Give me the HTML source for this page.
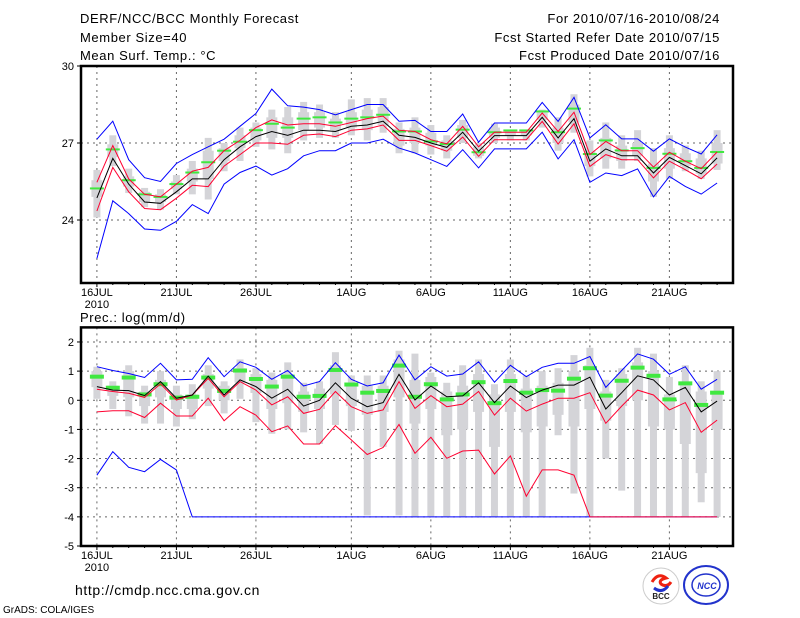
<!DOCTYPE html>
<html><head><meta charset="utf-8"><style>
html,body{margin:0;padding:0;background:#fff;}
svg{display:block;font-family:"Liberation Sans",sans-serif;}
</style></head><body>
<svg id="chart" width="800" height="618" viewBox="0 0 800 618" xmlns="http://www.w3.org/2000/svg">
<rect width="800" height="618" fill="#fff"/>
<g font-size="13" fill="#000" letter-spacing="0.6">
<text x="80" y="23">DERF/NCC/BCC Monthly Forecast</text>
<text x="80" y="42">Member Size=40</text>
<text x="80" y="60">Mean Surf. Temp.: °C</text>
<text x="720" y="23" text-anchor="end">For 2010/07/16-2010/08/24</text>
<text x="720" y="42" text-anchor="end">Fcst Started Refer Date 2010/07/15</text>
<text x="720" y="60" text-anchor="end">Fcst Produced Date 2010/07/16</text>
<text x="80" y="322">Prec.: log(mm/d)</text>
<text x="75" y="595" font-size="14">http://cmdp.ncc.cma.gov.cn</text>
<text x="3" y="613" font-size="10" letter-spacing="0">GrADS: COLA/IGES</text>
</g>
<g>
<circle cx="661" cy="586" r="18" fill="#fff" stroke="#ccc"/>
<path d="M652 582 q6 -10 14 -4 q-8 2 -5 6 q6 4 10 -2" fill="none" stroke="#e21" stroke-width="3"/>
<path d="M654 588 q8 6 14 -2" fill="none" stroke="#23c" stroke-width="3"/>
<text x="661" y="599" font-size="8" font-weight="bold" text-anchor="middle" fill="#222">BCC</text>
</g>
<g>
<ellipse cx="706" cy="585" rx="22" ry="19" fill="#fff" stroke="#23c" stroke-width="2"/>
<ellipse cx="706" cy="585" rx="14" ry="11" fill="none" stroke="#23c" stroke-width="1.5"/>
<text x="707" y="589" font-size="9" font-weight="bold" font-style="italic" text-anchor="middle" fill="#23c">NCC</text>
</g>
<g id="plots"></g>
</svg>
<script>
// ---- Temperature panel data (days 16JUL..24AUG) ----
const days = ["16JUL","17JUL","18JUL","19JUL","20JUL","21JUL","22JUL","23JUL","24JUL","25JUL","26JUL","27JUL","28JUL","29JUL","30JUL","31JUL","1AUG","2AUG","3AUG","4AUG","5AUG","6AUG","7AUG","8AUG","9AUG","10AUG","11AUG","12AUG","13AUG","14AUG","15AUG","16AUG","17AUG","18AUG","19AUG","20AUG","21AUG","22AUG","23AUG","24AUG"];
const xTickLabels = ["16JUL","21JUL","26JUL","1AUG","6AUG","11AUG","16AUG","21AUG"];
const xTickIdx = [0,5,10,16,21,26,31,36];
const tTicks = [24,27,30];
const tMean = [24.86,26.4,25.4,24.7,24.65,25.1,25.6,25.6,26.35,26.85,27.25,27.45,27.3,27.5,27.5,27.45,27.65,27.7,27.85,27.3,27.22,27.0,26.83,27.42,26.68,27.29,27.29,27.29,28.0,27.2,27.95,26.29,26.77,26.5,26.5,25.83,26.44,26.12,25.8,26.42];
const tRedHi = [25.47,26.9,25.6,25.0,24.9,25.4,25.9,26.05,26.7,27.1,27.6,27.9,27.7,27.75,27.75,27.65,27.8,27.95,28.05,27.5,27.45,27.13,26.97,27.65,26.85,27.42,27.42,27.42,28.17,27.45,28.2,26.55,27.06,26.7,26.7,26.06,26.64,26.29,26.0,26.65];
const tRedLo = [24.35,26.05,25.1,24.45,24.4,24.85,25.35,25.3,26.1,26.55,27.0,27.0,26.95,27.3,27.35,27.25,27.5,27.55,27.7,27.1,27.1,26.9,26.68,27.23,26.48,27.13,27.13,27.13,27.84,26.96,27.75,26.09,26.55,26.35,26.35,25.64,26.29,25.96,25.61,26.18];
const tMax = [27.15,27.85,26.35,25.65,25.5,26.2,26.55,26.85,27.15,27.65,28.15,29.1,28.45,28.4,28.3,28.1,28.3,28.5,28.5,27.85,27.88,27.45,27.45,28.13,27.03,27.78,27.78,27.78,28.58,27.84,28.78,27.2,27.71,27.16,27.16,26.68,27.16,26.84,26.57,27.32];
const tMin = [22.5,24.75,24.25,23.65,23.6,23.95,24.6,24.25,25.4,25.85,26.1,25.75,26.0,26.5,26.7,26.7,27.0,27.0,27.15,26.8,26.61,26.35,26.09,26.74,26.03,26.77,26.77,26.77,27.42,26.38,27.13,25.47,25.83,25.73,25.99,24.9,25.7,25.31,25.01,25.44];
const tObs = [25.23,26.75,25.55,25.0,24.9,25.4,25.85,26.25,26.7,27.05,27.5,27.75,27.6,27.95,28.0,27.8,27.95,28.0,28.1,27.45,27.45,27.06,26.96,27.52,26.64,27.42,27.49,27.49,28.23,27.42,28.34,26.57,27.1,26.71,26.8,26.03,26.58,26.29,26.03,26.65];
const tWhLo = [24.1,26.1,25.05,24.5,24.4,25.0,25.0,24.8,25.9,26.3,26.85,26.75,26.6,27.1,27.2,27.2,27.3,27.1,27.4,26.6,26.6,26.55,26.4,27.0,26.4,27.0,27.1,27.1,27.6,26.7,27.4,25.7,26.0,26.0,26.3,24.9,25.6,25.9,25.6,25.95];
const tWhHi = [25.95,27.3,26.0,25.25,25.2,25.75,26.3,27.2,27.0,27.6,27.8,28.3,28.4,28.6,28.5,28.2,28.7,28.75,28.75,27.8,28.0,27.7,27.3,27.9,27.0,27.75,27.5,27.5,28.3,28.0,28.9,27.1,27.8,27.3,27.5,26.8,27.3,26.9,26.7,27.5];
const tBoxLo = [24.9,26.45,25.3,24.7,24.7,25.2,25.5,25.6,26.3,26.8,27.1,27.2,27.2,27.5,27.6,27.5,27.6,27.5,27.7,26.9,27.0,26.9,26.7,27.2,26.5,27.2,27.3,27.3,27.9,27.0,27.8,26.1,26.4,26.3,26.5,25.5,26.0,26.1,25.8,26.2];
const tBoxHi = [25.55,26.95,25.7,25.1,25.0,25.5,26.0,26.7,26.8,27.3,27.6,28.0,28.0,28.2,28.2,27.95,28.2,28.3,28.4,27.55,27.6,27.4,27.1,27.7,26.85,27.6,27.5,27.5,28.2,27.6,28.5,26.7,27.2,26.9,27.0,26.2,26.8,26.6,26.4,27.0];
// ---- Precipitation panel data ----
const pTicks = [-5,-4,-3,-2,-1,0,1,2];
const pMean = [0.47,0.35,0.33,0.16,0.64,0.07,0.18,0.83,0.18,0.7,0.47,0.07,0.38,-0.2,0.0,0.6,0.07,-0.22,-0.08,0.89,0.01,0.49,0.12,0.15,0.6,-0.08,0.49,0.09,0.35,0.52,0.52,0.79,-0.3,0.26,0.84,0.7,0.18,0.44,-0.4,-0.03];
const pMax = [1.15,1.02,0.92,0.78,1.27,0.7,0.72,1.46,0.81,1.32,1.13,0.72,1.02,0.49,0.64,1.29,0.72,0.49,0.6,1.55,0.7,1.15,0.83,0.9,1.32,0.62,1.2,0.81,1.13,1.27,1.27,1.5,0.44,1.02,1.59,1.41,0.89,1.15,0.38,0.72];
const pRedHi = [0.38,0.3,0.24,0.1,0.56,0.01,0.18,0.75,0.12,0.64,0.35,-0.16,0.12,-0.45,-0.31,0.3,-0.22,-0.45,-0.33,0.64,-0.28,0.16,-0.22,-0.13,0.3,-0.51,0.07,-0.37,-0.13,0.07,0.07,0.26,-0.79,-0.2,0.35,0.18,-0.33,-0.08,-1.1,-0.68];
const pRedLo = [-0.4,-0.36,-0.36,-0.59,-0.1,-0.54,-0.54,0.07,-0.7,-0.22,-0.51,-1.08,-0.88,-1.5,-1.5,-0.87,-1.36,-1.86,-1.62,-0.83,-1.82,-1.27,-1.99,-1.74,-1.71,-2.53,-1.91,-3.29,-2.39,-2.39,-2.57,-4,-4,-4,-4,-4,-4,-4,-4,-4];
const pMin = [-2.57,-1.76,-2.3,-2.45,-2.03,-2.39,-4,-4,-4,-4,-4,-4,-4,-4,-4,-4,-4,-4,-4,-4,-4,-4,-4,-4,-4,-4,-4,-4,-4,-4,-4,-4,-4,-4,-4,-4,-4,-4,-4,-4];
const pObs = [0.81,0.43,0.78,0.2,0.55,0.09,0.12,0.78,0.32,1.02,0.73,0.47,0.81,0.12,0.15,1.04,0.54,0.26,0.32,1.19,0.12,0.55,0.03,0.2,0.62,-0.1,0.66,0.26,0.35,0.33,0.74,1.1,0.16,0.67,1.12,0.84,0.03,0.58,-0.16,0.26];
const pWhLo = [0.05,-0.3,-0.55,-0.8,-0.8,-0.9,-0.65,-0.2,-0.45,0.05,-0.75,-1.15,-1.0,-1.1,-1.5,-0.85,-1.05,-3.95,-1.6,-3.95,-4,-4,-4,-4,-4,-4,-4,-4,-4,-1.2,-3.2,-4,-2.0,-3.1,-4,-4,-4,-4,-3.5,-4];
const pWhHi = [1.15,0.65,1.2,0.5,1.0,0.5,0.55,1.2,0.65,1.4,1.1,0.95,1.3,0.6,0.65,1.65,0.85,0.85,0.85,1.7,1.6,0.95,0.6,1.2,1.4,0.55,1.4,0.85,1.0,1.1,1.55,1.8,0.7,1.1,1.8,1.6,0.8,1.2,0.65,1.0];
const pBoxLo = [0.45,0.15,0.1,-0.2,0.1,-0.3,-0.3,0.4,0.0,0.6,0.25,-0.3,-0.1,-0.4,-0.3,0.2,-0.2,-0.5,-0.4,0.1,-0.8,-0.3,-1.2,-1.0,-0.4,-1.6,-0.4,-1.1,-0.9,-0.5,-0.9,-0.3,-0.7,-0.2,0.0,-0.9,-1.0,-1.5,-2.5,-1.0];
const pBoxHi = [1.0,0.5,1.0,0.3,0.7,0.2,0.2,0.9,0.5,1.1,0.9,0.7,0.9,0.3,0.4,1.2,0.6,0.5,0.5,1.4,0.7,0.8,0.3,0.5,0.9,0.2,0.9,0.4,0.5,0.6,1.0,1.2,0.3,0.9,1.3,1.0,0.2,0.6,0.3,0.3];

const NS = "http://www.w3.org/2000/svg";
const root = document.getElementById("plots");
const X0 = 81, X1 = 733;
const xs = d => X0 + (d + 1) * (X1 - X0) / (days.length + 1);
function mk(tag, attrs, parent) {
  const e = document.createElementNS(NS, tag);
  for (const k in attrs) e.setAttribute(k, attrs[k]);
  parent.appendChild(e);
  return e;
}
function panel(cfg) {
  const g = mk("g", {}, root);
  
  
  const ys = v => cfg.yBot + (v - cfg.vMin) * (cfg.yTop - cfg.yBot) / (cfg.vMax - cfg.vMin);
  xTickIdx.forEach((d, i) => {
    const l = mk("line", {x1: xs(d), x2: xs(d), y1: cfg.yTop, y2: cfg.yBot, stroke: "#666", "stroke-dasharray": "2,4", "stroke-width": 1}, g);
    
    
    const t = mk("text", {x: xs(d), y: cfg.yBot + 13, "font-size": 11, "text-anchor": "middle"}, g);
    t.textContent = xTickLabels[i];
    
    
  });
  for (let d = 0; d < days.length; d++) {
    mk("line", {x1: xs(d), x2: xs(d), y1: cfg.yBot, y2: cfg.yBot + (xTickIdx.includes(d) ? 4 : 2), stroke: "#000"}, g);
  }
  const yr = mk("text", {x: xs(0), y: cfg.yBot + 25, "font-size": 11, "text-anchor": "middle"}, g);
  yr.textContent = "2010";
  
  
  cfg.ticks.forEach(v => {
    const y = ys(v);
    if (v !== cfg.vMax && v !== cfg.vMin) {
      const l = mk("line", {x1: X0, x2: X1, y1: y, y2: y, stroke: "#666", "stroke-dasharray": "2,4"}, g);
      
      
    }
    mk("line", {x1: X0 - 4, x2: X0, y1: y, y2: y, stroke: "#000"}, g);
    const t = mk("text", {x: X0 - 7, y: y + 4, "font-size": 11, "text-anchor": "end"}, g);
    t.textContent = v;
    
    
  });
  for (let d = 0; d < days.length; d++) {
    const w = mk("rect", {x: xs(d) - 3.5, width: 7, y: ys(cfg.whHi[d]), height: Math.max(1, ys(cfg.whLo[d]) - ys(cfg.whHi[d])), fill: "#d4d4d8"}, g);
    
    
    const b = mk("rect", {x: xs(d) - 5.5, width: 11, y: ys(cfg.boxHi[d]), height: Math.max(1, ys(cfg.boxLo[d]) - ys(cfg.boxHi[d])), fill: "#d4d4d8"}, g);
    
    
  }
  for (let d = 0; d < days.length; d++) {
    const r = mk("rect", {x: xs(d) - 7, width: 14, y: ys(cfg.obs[d]) - cfg.gh / 2, height: cfg.gh, fill: "#40e840"}, g);
    
    
  }
  const line = (arr, col, name) => {
    const p = mk("polyline", {points: arr.map((v, d) => xs(d).toFixed(1) + "," + ys(v).toFixed(1)).join(" "), fill: "none", stroke: col, "stroke-width": 1}, g);
    
    
  };
  line(cfg.max, "#0000ff", "max-line");
  line(cfg.min, "#0000ff", "min-line");
  line(cfg.redHi, "#ff0030", "upper-line");
  line(cfg.redLo, "#ff0030", "lower-line");
  line(cfg.mean, "#000", "mean-line");
  const f = mk("rect", {x: X0, y: cfg.yTop, width: X1 - X0, height: cfg.yBot - cfg.yTop, fill: "none", stroke: "#000", "stroke-width": 2.5}, g);
  
  
}
panel({name: "temperature-panel", yTop: 66, yBot: 283, vMax: 30, vMin: 30 - 217 * 3 / 77, ticks: tTicks, gh: 2,
  mean: tMean, redHi: tRedHi, redLo: tRedLo, max: tMax, min: tMin, obs: tObs, whLo: tWhLo, whHi: tWhHi, boxLo: tBoxLo, boxHi: tBoxHi});
panel({name: "precipitation-panel", yTop: 327.4, yBot: 546, vMax: 2.5, vMin: -5, ticks: pTicks, gh: 4,
  mean: pMean, redHi: pRedHi, redLo: pRedLo, max: pMax, min: pMin, obs: pObs, whLo: pWhLo, whHi: pWhHi, boxLo: pBoxLo, boxHi: pBoxHi});
</script>
</body></html>
